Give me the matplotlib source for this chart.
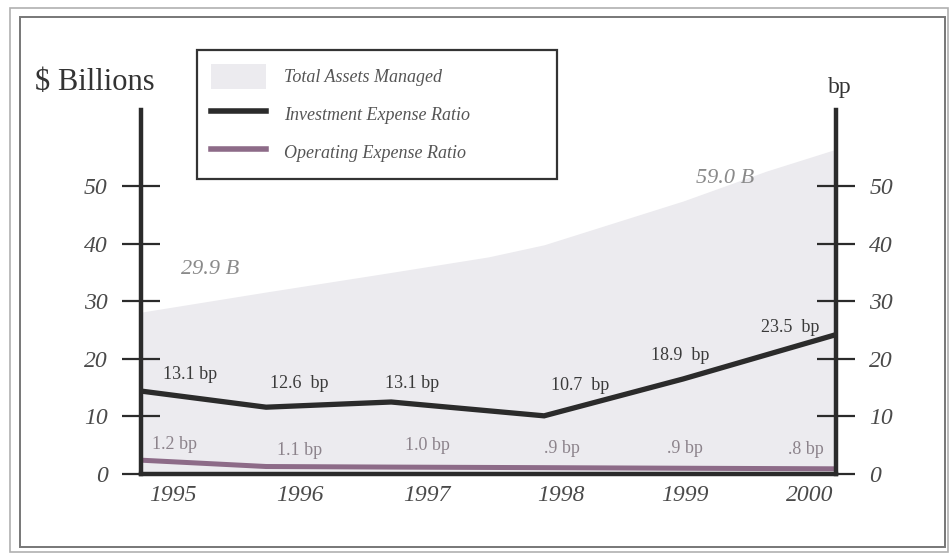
import matplotlib
matplotlib.use("Agg")
import matplotlib.pyplot as plt
from matplotlib.patches import Rectangle, Patch
from matplotlib.lines import Line2D

# data
point_x = [1995.0, 1995.9, 1996.8, 1997.9, 1998.9, 2000.0]
investment_ratio = [14.4, 11.6, 12.5, 10.1, 16.5, 24.2]
operating_ratio = [2.4, 1.3, 1.2, 1.1, 1.0, 0.9]
asset_x = [1995.0, 1995.9, 1996.8, 1997.5, 1997.9, 1998.4, 1998.9, 1999.5, 2000.0]
total_assets = [28.1, 31.6, 35.0, 37.7, 39.8, 43.6, 47.4, 52.6, 56.4]
investment_labels = ["13.1 bp", "12.6  bp", "13.1 bp", "10.7  bp", "18.9  bp", "23.5  bp"]
operating_labels = ["1.2 bp", "1.1 bp", "1.0 bp", ".9 bp", ".9 bp", ".8 bp"]
years = ["1995", "1996", "1997", "1998", "1999", "2000"]
y_ticks = [0, 10, 20, 30, 40, 50]

# where the text sits
year_pos = [1995.23, 1996.14, 1997.06, 1998.02, 1998.91, 1999.81]
inv_label_pos = [(1995.35, 17.2), (1996.14, 15.8), (1996.95, 15.8),
                 (1998.16, 15.3), (1998.88, 20.5), (1999.67, 25.5)]
op_label_pos = [(1995.24, 5.2), (1996.14, 4.0), (1997.06, 4.9),
                (1998.03, 4.5), (1998.91, 4.5), (1999.78, 4.2)]

fill_color = "#ecebef"
purple = "#8d6b88"
dark = "#2b2b2b"
text_gray = "#4a4a4a"

plt.rcParams["font.family"] = ["Liberation Serif", "DejaVu Serif"]

W, H = 951, 555
fig = plt.figure(figsize=(W / 100, H / 100), dpi=100)

# double frame around the chart
fig.patches.append(Rectangle((10 / W, 1 - 552 / H), 938 / W, 544 / H,
                             transform=fig.transFigure, fill=False,
                             edgecolor="#b0b0b0", lw=1.2))
fig.patches.append(Rectangle((20 / W, 1 - 547 / H), 925 / W, 530 / H,
                             transform=fig.transFigure, fill=False,
                             edgecolor="#777777", lw=1.4))

ax = fig.add_axes([141 / W, 1 - 474 / H, (836 - 141) / W, (474 - 110) / H])
ax.set_xlim(1995, 2000)
ax.set_ylim(0, 63.2)
ax.patch.set_alpha(0)

ax.fill_between(asset_x, total_assets, color=fill_color, lw=0, zorder=1)
ax.plot(point_x, investment_ratio, color=dark, lw=3.8, zorder=3,
        solid_joinstyle="miter")
ax.plot(point_x, operating_ratio, color=purple, lw=3.6, zorder=3)

for (lx, ly), t in zip(inv_label_pos, investment_labels):
    ax.text(lx, ly, t, ha="center", va="center", fontsize=13,
            color="#3a3a3a", zorder=4)
for (lx, ly), t in zip(op_label_pos, operating_labels):
    ax.text(lx, ly, t, ha="center", va="center", fontsize=13,
            color="#8c838b", zorder=4)

ax.text(1995.5, 35.5, "29.9 B", ha="center", va="center", fontsize=16,
        style="italic", color="#8a8a8a")
ax.text(1999.2, 51.3, "59.0 B", ha="center", va="center", fontsize=16,
        style="italic", color="#8a8a8a")

# spines and ticks
ax.spines["top"].set_visible(False)
for side in ["left", "right", "bottom"]:
    ax.spines[side].set_linewidth(3.2)
    ax.spines[side].set_color(dark)
    ax.spines[side].set_zorder(5)

ax.set_yticks(y_ticks)
ax.set_yticklabels([str(v) for v in y_ticks])
ax.yaxis.set_ticks_position("both")
ax.tick_params(axis="y", direction="inout", length=28, width=1.6,
               color=dark, labelsize=17, labelcolor=text_gray, pad=10,
               labelright=True)
for t in ax.yaxis.get_major_ticks():
    t.label1.set_style("italic")
    t.label2.set_style("italic")

ax.set_xticks(year_pos)
ax.set_xticklabels(years)
ax.tick_params(axis="x", length=0, labelsize=17, labelcolor=text_gray, pad=8)
for lab in ax.get_xticklabels():
    lab.set_style("italic")

fig.text(35 / W, 1 - 83 / H, "$ Billions", ha="left", va="center",
         fontsize=22, color="#333333")
fig.text(840 / W, 1 - 88 / H, "bp", ha="center", va="center",
         fontsize=17, color="#333333")

# legend
handles = [Patch(facecolor=fill_color, edgecolor="none"),
           Line2D([], [], color=dark, lw=4),
           Line2D([], [], color=purple, lw=4)]
names = ["Total Assets Managed", "Investment Expense Ratio",
         "Operating Expense Ratio"]
leg = ax.legend(handles, names, loc="upper left", mode="expand",
                bbox_to_anchor=(197 / W, 1 - 50 / H, 360 / W, 0),
                bbox_transform=fig.transFigure, fancybox=False,
                edgecolor="#333333", framealpha=1, borderpad=0.8,
                borderaxespad=0, labelspacing=0.75, handlelength=3.0,
                handleheight=1.7, handletextpad=1.0,
                prop={"size": 13, "style": "italic"})
leg.get_frame().set_linewidth(1.6)
for t in leg.get_texts():
    t.set_color("#555555")
leg.set_zorder(6)

fig.savefig("out.png", dpi=100)
